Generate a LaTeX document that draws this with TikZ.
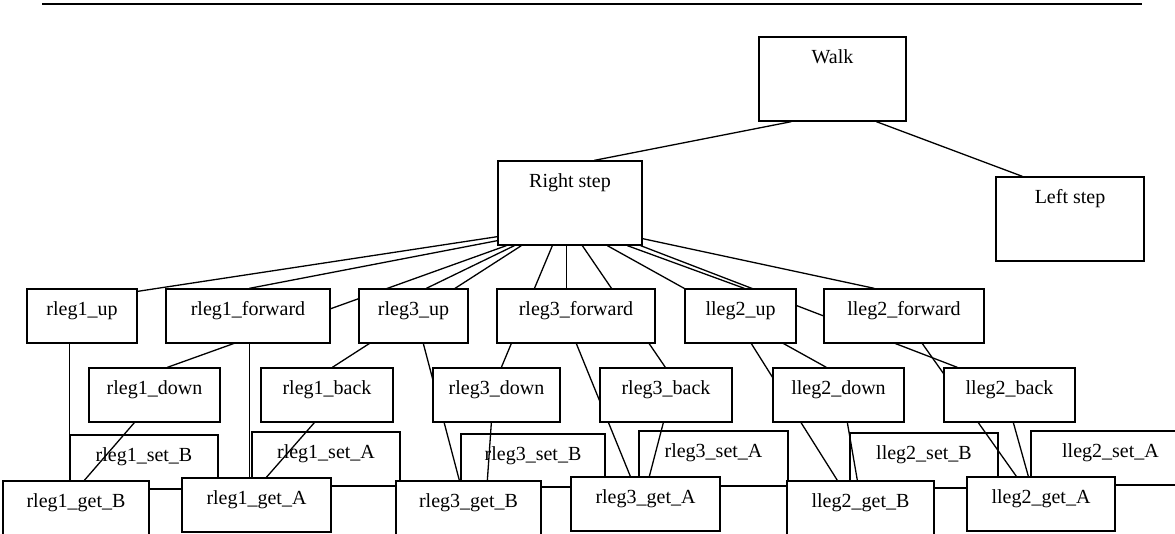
\documentclass[tikz,border=0pt]{standalone}
\usepackage{fontspec}
\setmainfont{Liberation Serif}
\usetikzlibrary{fit}
\pgfdeclarelayer{setlayer}
\pgfdeclarelayer{wires}
\pgfsetlayers{setlayer,wires,main}
\tikzset{
  boxst/.style={draw, fill=white, line width=1.3pt, inner sep=0pt, rectangle},
  lbl/.style={anchor=base, inner sep=0pt, font=\fontsize{20}{24}\selectfont},
  wire/.style={line width=1.3pt},
}
% box given by its corners (x1,y1) (x2,y2), label set near its top
\newcommand\boxnode[6]{%
  \node[boxst, fit={(#2,#3) (#4,#5)}] (#1) {};
  \node[lbl] (#1-t) at ([yshift=-27pt]#1.north) {#6};
}
\begin{document}
\begin{tikzpicture}[x=1pt, y=-1pt]
\useasboundingbox (0,0) rectangle (1175,533);

% rule across the top
\draw[line width=2.5pt] (42,4) -- (1142,4);

% hierarchy
\boxnode{walk}{759}{37}{906}{121}{Walk}
\boxnode{rs}{498}{161}{642}{245}{Right step}
\boxnode{ls}{996}{177}{1144}{261}{Left step}

% leg movements
\boxnode{r1up}{27}{289}{137}{343}{rleg1\_up}
\boxnode{r1fw}{166}{289}{330}{343}{rleg1\_forward}
\boxnode{r3up}{359}{289}{468}{343}{rleg3\_up}
\boxnode{r3fw}{497}{289}{655}{343}{rleg3\_forward}
\boxnode{l2up}{685}{289}{796}{343}{lleg2\_up}
\boxnode{l2fw}{824}{289}{984}{343}{lleg2\_forward}

\boxnode{r1dn}{89}{368}{220}{422}{rleg1\_down}
\boxnode{r1bk}{261}{368}{393}{422}{rleg1\_back}
\boxnode{r3dn}{433}{368}{560}{422}{rleg3\_down}
\boxnode{r3bk}{600}{368}{732}{422}{rleg3\_back}
\boxnode{l2dn}{773}{368}{904}{422}{lleg2\_down}
\boxnode{l2bk}{944}{368}{1075}{422}{lleg2\_back}

% get operations
\boxnode{r1gB}{3}{481}{149}{545}{rleg1\_get\_B}
\boxnode{r1gA}{182}{478}{331}{532}{rleg1\_get\_A}
\boxnode{r3gB}{396}{481}{541}{545}{rleg3\_get\_B}
\boxnode{r3gA}{571}{477}{720}{531}{rleg3\_get\_A}
\boxnode{l2gB}{787}{481}{934}{545}{lleg2\_get\_B}
\boxnode{l2gA}{967}{477}{1115}{531}{lleg2\_get\_A}

% set operations, lying behind the get boxes
\begin{pgfonlayer}{setlayer}
\boxnode{r1sB}{70}{435}{218}{489}{rleg1\_set\_B}
\boxnode{r1sA}{252}{432}{400}{486}{rleg1\_set\_A}
\boxnode{r3sB}{461}{434}{605}{487}{rleg3\_set\_B}
\boxnode{r3sA}{639}{431}{788}{486}{rleg3\_set\_A}
\boxnode{l2sB}{850}{433}{998}{488}{lleg2\_set\_B}
\boxnode{l2sA}{1031}{431}{1190}{485}{lleg2\_set\_A}
\end{pgfonlayer}

% connectors, drawn beneath the boxes
\begin{pgfonlayer}{wires}
\draw[wire] ([xshift=33pt]walk.south west) -- ([xshift=97pt]rs.north west);
\draw[wire] ([xshift=118pt]walk.south west) -- ([xshift=27pt]ls.north west);

\draw[wire] ([yshift=9pt]rs.south west) -- ([yshift=-3pt]r1up.north east);
\draw[wire] ([yshift=5pt]rs.south west) -- ([xshift=84pt]r1fw.north west);
\draw[wire] ([xshift=9pt]rs.south west) -- ([xshift=79pt]r1dn.north west);
\draw[wire] ([xshift=17pt]rs.south west) -- ([xshift=68pt]r3up.north west);
\draw[wire] ([xshift=24pt]rs.south west) -- ([xshift=72pt]r1bk.north west);
\draw[wire] ([xshift=55pt]rs.south west) -- ([xshift=69pt]r3dn.north west);
\draw[wire] ([xshift=69pt]rs.south west) -- ([xshift=70pt]r3fw.north west);
\draw[wire] ([xshift=85pt]rs.south west) -- ([xshift=66pt]r3bk.north west);
\draw[wire] ([xshift=110pt]rs.south west) -- ([xshift=54pt]l2dn.north west);
\draw[wire] ([xshift=130pt]rs.south west) -- ([xshift=60pt]l2up.north west);
\draw[wire] ([xshift=-2pt]rs.south east) -- ([xshift=14pt]l2bk.north west);
\draw[wire] ([yshift=7pt]rs.south east) -- ([xshift=51pt]l2fw.north west);

\draw[wire] ([xshift=43pt]r1up.south west) -- ([xshift=67pt]r1gB.north west);
\draw[wire] ([xshift=84pt]r1fw.south west) -- ([xshift=68pt]r1gA.north west);
\draw[wire] ([xshift=46pt]r1dn.south west) -- ([xshift=82pt]r1gB.north west);
\draw[wire] ([xshift=54pt]r1bk.south west) -- ([xshift=85pt]r1gA.north west);
\draw[wire] ([xshift=65pt]r3up.south west) -- ([xshift=64pt]r3gB.north west);
\draw[wire] ([xshift=59pt]r3dn.south west) -- ([xshift=92pt]r3gB.north west);
\draw[wire] ([xshift=80pt]r3fw.south west) -- ([xshift=60pt]r3gA.north west);
\draw[wire] ([xshift=64pt]r3bk.south west) -- ([xshift=79pt]r3gA.north west);
\draw[wire] ([xshift=67pt]l2up.south west) -- ([xshift=51pt]l2gB.north west);
\draw[wire] ([xshift=75pt]l2dn.south west) -- ([xshift=71pt]l2gB.north west);
\draw[wire] ([xshift=99pt]l2fw.south west) -- ([xshift=50pt]l2gA.north west);
\draw[wire] ([xshift=70pt]l2bk.south west) -- ([xshift=62pt]l2gA.north west);
\end{pgfonlayer}
\end{tikzpicture}
\end{document}
